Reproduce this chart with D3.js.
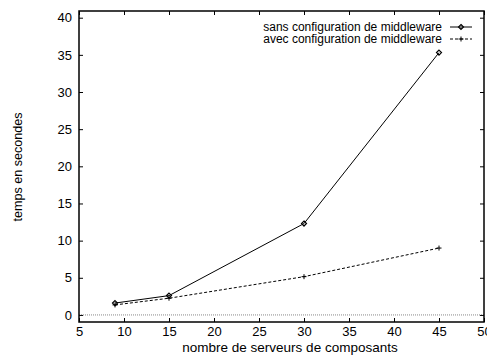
<!DOCTYPE html>
<html>
<head>
<meta charset="utf-8">
<script src="https://cdn.jsdelivr.net/npm/d3@7"></script>
<style>
body { margin: 0; background: #fff; }
svg text { font-family: "Liberation Sans", Arial, sans-serif; }
</style>
</head>
<body>
<div id="chart"></div>
<script>
// nombre de serveurs de composants
var servers = [9, 15, 30, 45]
// temps en secondes
var sansConfig = [1.6, 2.6, 12.3, 35.3]
var avecConfig = [1.35, 2.25, 5.15, 9.0]
var seriesNames = ["sans configuration de middleware", "avec configuration de middleware"]
var xTicks = [5, 10, 15, 20, 25, 30, 35, 40, 45, 50]
var yTicks = [0, 5, 10, 15, 20, 25, 30, 35, 40]

var dimensions = {
    width: 487,
    height: 355,
    margin: { top: 11, right: 3, bottom: 33, left: 79 }
}
var w = dimensions.width - dimensions.margin.left - dimensions.margin.right
var h = dimensions.height - dimensions.margin.top - dimensions.margin.bottom

var svg = d3.select("#chart")
    .append("svg")
    .attr("width", dimensions.width)
    .attr("height", dimensions.height)

var g = svg.append("g")
    .attr("transform", "translate(" + dimensions.margin.left + "," + dimensions.margin.top + ")")

var x = d3.scaleLinear().domain([5, 50]).range([0, w])
var y = d3.scaleLinear().domain([-0.95, 40.9]).range([h, 0])

// zero line (dotted)
g.append("line")
    .attr("x1", 0).attr("x2", w)
    .attr("y1", y(0)).attr("y2", y(0))
    .attr("stroke", "#888")
    .attr("stroke-width", 1)
    .attr("stroke-dasharray", "1,1")

// axes with inward ticks, mirrored on all sides
var tickFont = 13
g.append("g")
    .attr("transform", "translate(0," + h + ")")
    .call(d3.axisBottom(x).tickValues(xTicks).tickSizeInner(-4).tickSizeOuter(0).tickPadding(5))
g.append("g")
    .call(d3.axisTop(x).tickValues(xTicks).tickSizeInner(-4).tickSizeOuter(0).tickFormat(""))
g.append("g")
    .call(d3.axisLeft(y).tickValues(yTicks).tickSizeInner(-4).tickSizeOuter(0).tickPadding(7))
g.append("g")
    .attr("transform", "translate(" + w + ",0)")
    .call(d3.axisRight(y).tickValues(yTicks).tickSizeInner(-4).tickSizeOuter(0).tickFormat(""))

g.selectAll(".domain").remove()
g.selectAll(".tick line").attr("stroke", "#000")
g.selectAll(".tick text")
    .style("font-size", tickFont + "px")
    .style("font-family", "Liberation Sans, Arial, sans-serif")
    .attr("fill", "#000")

// frame
g.append("rect")
    .attr("width", w).attr("height", h)
    .attr("fill", "none")
    .attr("stroke", "#000")
    .attr("stroke-width", 1.5)

var line = d3.line()
    .x(function (d) { return x(d[0]) })
    .y(function (d) { return y(d[1]) })

var data1 = servers.map(function (s, i) { return [s, sansConfig[i]] })
var data2 = servers.map(function (s, i) { return [s, avecConfig[i]] })

g.append("path")
    .datum(data1)
    .attr("d", line)
    .attr("fill", "none")
    .attr("stroke", "#000")
    .attr("stroke-width", 1)

g.append("path")
    .datum(data2)
    .attr("d", line)
    .attr("fill", "none")
    .attr("stroke", "#000")
    .attr("stroke-width", 1)
    .attr("stroke-dasharray", "3,2")

// gnuplot-like point types: open diamond and plus
function drawDiamond(sel, cx, cy) {
    var r = 2.5
    sel.append("path")
        .attr("d", "M" + cx + "," + (cy - r) + "L" + (cx + r) + "," + cy + "L" + cx + "," + (cy + r) + "L" + (cx - r) + "," + cy + "Z")
        .attr("fill", "none")
        .attr("stroke", "#000")
        .attr("stroke-width", 1.2)
}
function drawPlus(sel, cx, cy) {
    sel.append("path")
        .attr("d", "M" + (cx - 2.5) + "," + cy + "H" + (cx + 2.5) + "M" + cx + "," + (cy - 2.5) + "V" + (cy + 2.5))
        .attr("stroke", "#000")
        .attr("stroke-width", 1)
}

data1.forEach(function (d) { drawDiamond(g, x(d[0]), y(d[1])) })
data2.forEach(function (d) { drawPlus(g, x(d[0]), y(d[1])) })

// legend
var legendRows = [16, 28]
seriesNames.forEach(function (name, i) {
    var ly = legendRows[i]
    g.append("text")
        .attr("x", 363)
        .attr("y", ly)
        .attr("dy", "0.35em")
        .attr("text-anchor", "end")
        .style("font-size", "12px")
        .text(name)
    g.append("line")
        .attr("x1", 371).attr("x2", 393)
        .attr("y1", ly).attr("y2", ly)
        .attr("stroke", "#000")
        .attr("stroke-width", 1)
        .attr("stroke-dasharray", i == 0 ? null : "3,2")
    if (i == 0) drawDiamond(g, 382, ly)
    else drawPlus(g, 382, ly)
})

// axis titles
svg.append("text")
    .attr("x", 290)
    .attr("y", 352)
    .attr("text-anchor", "middle")
    .style("font-size", "13.5px")
    .text("nombre de serveurs de composants")

svg.append("text")
    .attr("transform", "translate(22,167) rotate(-90)")
    .attr("text-anchor", "middle")
    .style("font-size", "12.6px")
    .text("temps en secondes")
</script>
</body>
</html>
